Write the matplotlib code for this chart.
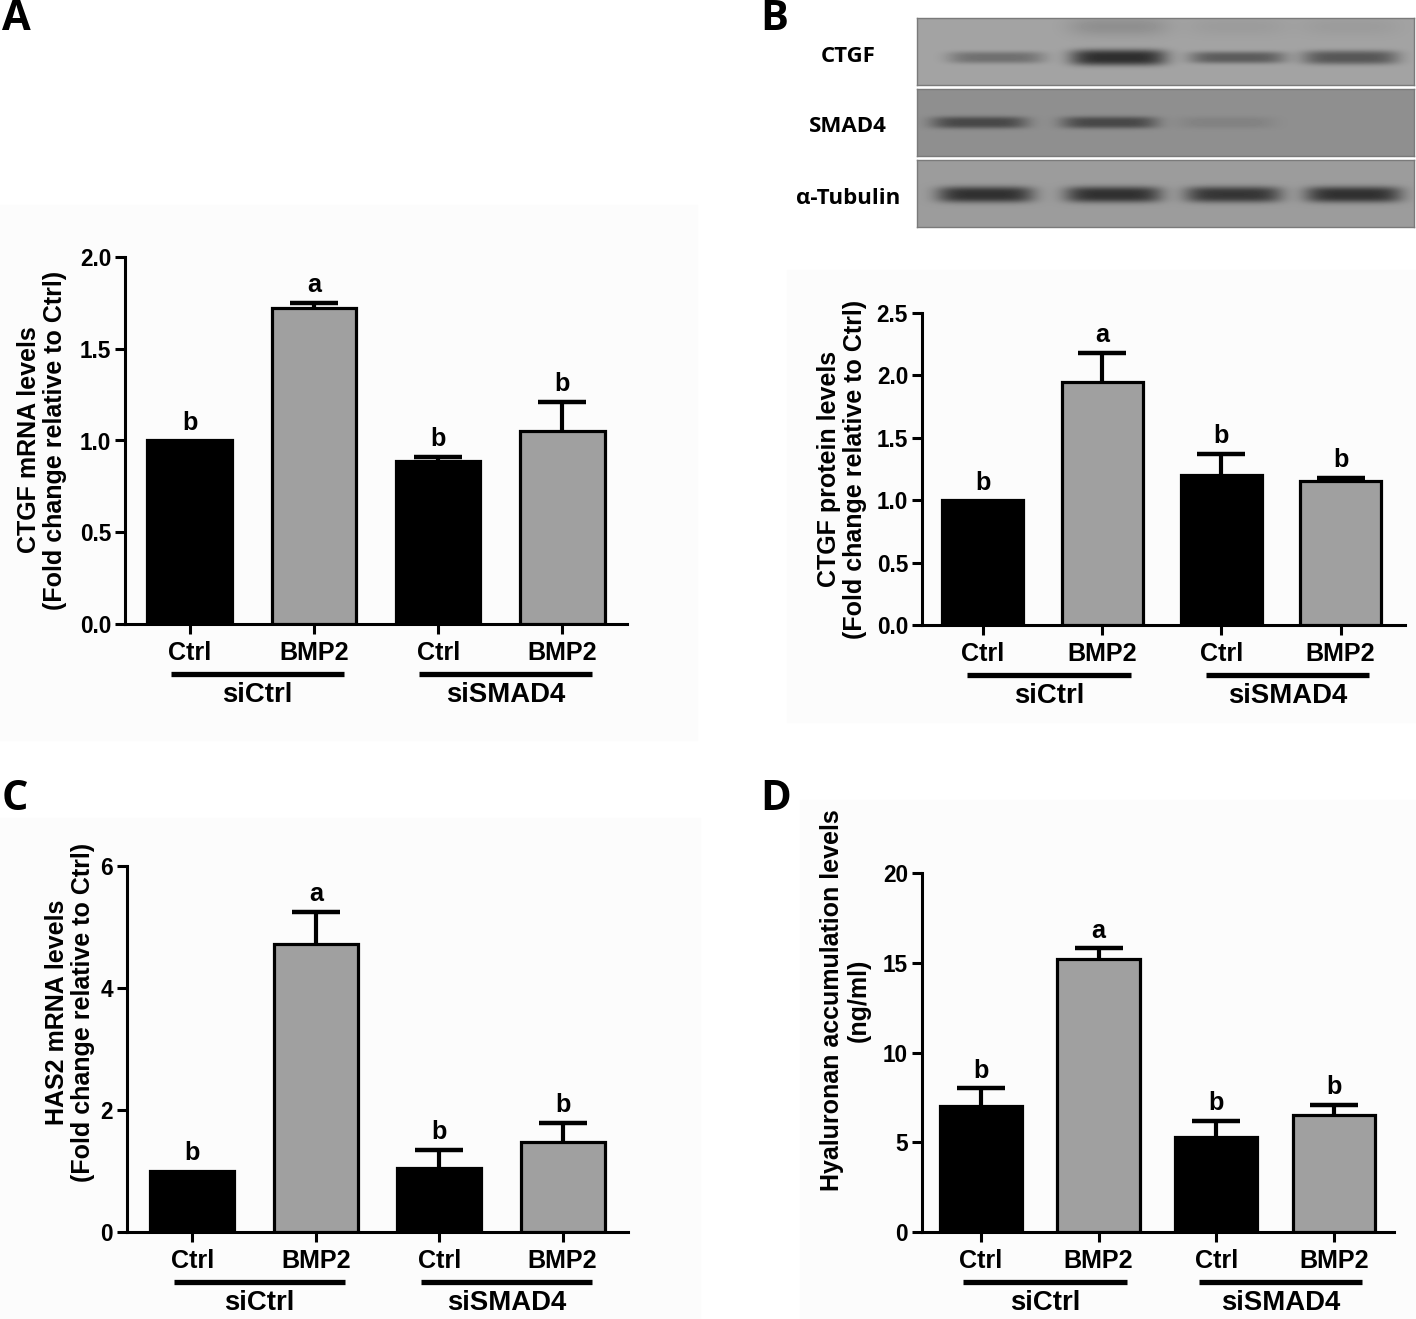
import numpy as np
import matplotlib
matplotlib.use('Agg')
import matplotlib.pyplot as plt
from matplotlib import font_manager
from matplotlib.patches import Rectangle
from matplotlib.transforms import blended_transform_factory, ScaledTranslation

# data
groups = ['siCtrl', 'siSMAD4']
treatments = ['Ctrl', 'BMP2', 'Ctrl', 'BMP2']
bar_colors = ['black', '#a0a0a0', 'black', '#a0a0a0']

ctgf_mrna = [1.00, 1.72, 0.89, 1.05]
ctgf_mrna_err = [0.0, 0.03, 0.02, 0.16]
ctgf_mrna_sig = ['b', 'a', 'b', 'b']

ctgf_prot = [1.00, 1.95, 1.20, 1.15]
ctgf_prot_err = [0.0, 0.23, 0.17, 0.03]
ctgf_prot_sig = ['b', 'a', 'b', 'b']

has2_mrna = [1.00, 4.72, 1.05, 1.47]
has2_mrna_err = [0.0, 0.53, 0.30, 0.32]
has2_mrna_sig = ['b', 'a', 'b', 'b']

hyaluronan = [7.0, 15.2, 5.3, 6.5]
hyaluronan_err = [1.0, 0.6, 0.9, 0.6]
hyaluronan_sig = ['b', 'a', 'b', 'b']

# western blot: band darkness per lane
blot_rows = ['CTGF', 'SMAD4', 'α-Tubulin']
blot_bg = [0.64, 0.56, 0.61]
blot_lane_x = [[79, 201, 320, 433], [62, 192, 309, 430], [68, 196, 316, 436]]
blot_band = [[0.20, 0.46, 0.28, 0.30], [0.28, 0.28, 0.05, 0.0], [0.42, 0.42, 0.40, 0.42]]
blot_band_y = [39, 33, 34]
blot_band_h = [[6, 8, 6, 7], [6, 6, 6, 6], [8, 8, 8, 8]]
ctgf_smear = [0.0, 0.08, 0.03, 0.03]

W, H = 1416, 1319
fig = plt.figure(figsize=(W / 100, H / 100), dpi=100)

names = {f.name for f in font_manager.fontManager.ttflist}
NARROW = 'Liberation Sans Narrow' if 'Liberation Sans Narrow' in names else 'Liberation Sans'
NS = 1.0 if NARROW == 'Liberation Sans Narrow' else 0.86
WIDE = 'Liberation Sans'
CAL = 'Open Sans'


def rect(l, t, r, b):
    return [l / W, 1 - b / H, (r - l) / W, (b - t) / H]


# faint panel backgrounds
for (l, t, r, b) in [(0, 205, 697, 740), (787, 270, 1416, 722), (0, 818, 700, 1319), (800, 800, 1416, 1319)]:
    fig.patches.append(Rectangle((l / W, 1 - b / H), (r - l) / W, (b - t) / H,
                                 transform=fig.transFigure, color='#fcfcfc', zorder=-5))


def bar_panel(box, vals, errs, sig, ylim, yticks, yfmt, xlim, width, line_ext):
    ax = fig.add_axes(rect(*box))
    ax.patch.set_alpha(0)
    x = np.arange(len(vals))
    vals = np.array(vals)
    errs = np.array(errs)
    ax.bar(x, vals, width, color=bar_colors, edgecolor='black', linewidth=2.3, zorder=3)
    has = errs > 0
    ax.vlines(x[has], vals[has], vals[has] + errs[has], color='black', lw=3, zorder=2)
    ax.plot(x[has], vals[has] + errs[has], ls='none', marker='_', ms=34, mew=3.2,
            color='black', zorder=2)
    ax.set_xlim(*xlim)
    ax.set_ylim(*ylim)
    ax.set_yticks(yticks)
    ax.set_yticklabels([yfmt.format(v) for v in yticks], family=NARROW, weight='bold', size=19 * NS)
    ax.set_xticks(x)
    ax.set_xticklabels(treatments, family=NARROW, weight='bold', size=21 * NS)
    for s in ['top', 'right']:
        ax.spines[s].set_visible(False)
    for s in ['left', 'bottom']:
        ax.spines[s].set_linewidth(2.2)
    ax.tick_params(axis='both', length=7, width=2.2)
    ax.tick_params(axis='x', pad=5)
    ax.tick_params(axis='y', pad=3)
    for i, (v, e, s) in enumerate(zip(vals, errs, sig)):
        ax.annotate(s, (i, v + e), xytext=(0, 4), textcoords='offset points', ha='center',
                    va='bottom', family=NARROW, weight='bold', size=21 * NS)
    tr_line = blended_transform_factory(ax.transData, ax.transAxes) + \
        ScaledTranslation(0, -0.50, fig.dpi_scale_trans)
    tr_lab = blended_transform_factory(ax.transData, ax.transAxes) + \
        ScaledTranslation(0, -0.71, fig.dpi_scale_trans)
    for g, name in enumerate(groups):
        x0, x1 = 2 * g + line_ext[0], 2 * g + 1 + line_ext[1]
        ax.plot([x0, x1], [0, 0], color='black', lw=3.8, transform=tr_line, clip_on=False,
                solid_capstyle='butt')
        ax.text((x0 + x1) / 2, 0, name, transform=tr_lab, ha='center', va='center',
                family=NARROW, weight='bold', size=23 * NS)
    return ax


def ylab(x, y, s):
    fig.text(x / W, 1 - y / H, s, rotation=90, ha='center', va='center', multialignment='center',
             family=WIDE, weight='bold', size=18, linespacing=1.15)


def panel_letter(x, y, s):
    fig.text(x / W, 1 - y / H, s, ha='left', va='center', family=CAL, weight='bold', size=30)


# A
bar_panel((125, 257, 627, 624), ctgf_mrna, ctgf_mrna_err, ctgf_mrna_sig, (0, 2.0),
          [0, 0.5, 1.0, 1.5, 2.0], '{:.1f}', (-0.52, 3.52), 0.68, (-0.15, 0.24))
ylab(42, 440, 'CTGF mRNA levels\n(Fold change relative to Ctrl)')
panel_letter(2, 20, 'A')

# B chart
bar_panel((922, 313, 1405, 625), ctgf_prot, ctgf_prot_err, ctgf_prot_sig, (0, 2.5),
          [0, 0.5, 1.0, 1.5, 2.0, 2.5], '{:.1f}', (-0.51, 3.54), 0.68, (-0.13, 0.24))
ylab(842, 469, 'CTGF protein levels\n(Fold change relative to Ctrl)')
panel_letter(760, 20, 'B')

# B blot
blot_tops = [18, 89, 160]
for r, name in enumerate(blot_rows):
    top = blot_tops[r]
    hgt = 67
    bax = fig.add_axes(rect(917, top, 1414, top + hgt))
    xx, yy = np.meshgrid(np.arange(497), np.arange(hgt))
    img = np.full((hgt, 497), blot_bg[r], dtype=float)
    for k, cx in enumerate(blot_lane_x[r]):
        band = np.exp(-np.abs((xx - cx) / 48.0) ** 5 - np.abs((yy - blot_band_y[r]) / blot_band_h[r][k]) ** 3)
        img -= blot_band[r][k] * band
        if r == 0:
            sm = np.exp(-np.abs((xx - cx) / 50.0) ** 4 - ((yy - 8) / 10.0) ** 2)
            img -= ctgf_smear[k] * sm
    bax.imshow(img, cmap='gray', vmin=0, vmax=1, aspect='auto', interpolation='bilinear')
    bax.set_xticks([])
    bax.set_yticks([])
    for s in bax.spines.values():
        s.set_color('#7a7a7a')
        s.set_linewidth(1)
    fig.text(848 / W, 1 - (top + 38) / H, name, ha='center', va='center', family=CAL,
             weight='bold', size=16)

# C
bar_panel((127, 866, 628, 1232), has2_mrna, has2_mrna_err, has2_mrna_sig, (0, 6),
          [0, 2, 4, 6], '{:d}', (-0.53, 3.53), 0.68, (-0.15, 0.24))
ylab(70, 1012, 'HAS2 mRNA levels\n(Fold change relative to Ctrl)')
panel_letter(2, 800, 'C')

# D
bar_panel((922, 873, 1394, 1232), hyaluronan, hyaluronan_err, hyaluronan_sig, (0, 20),
          [0, 5, 10, 15, 20], '{:d}', (-0.50, 3.51), 0.70, (-0.15, 0.24))
ylab(845, 1000, 'Hyaluronan accumulation levels\n(ng/ml)')
panel_letter(760, 800, 'D')

fig.savefig('out.png', dpi=100)
